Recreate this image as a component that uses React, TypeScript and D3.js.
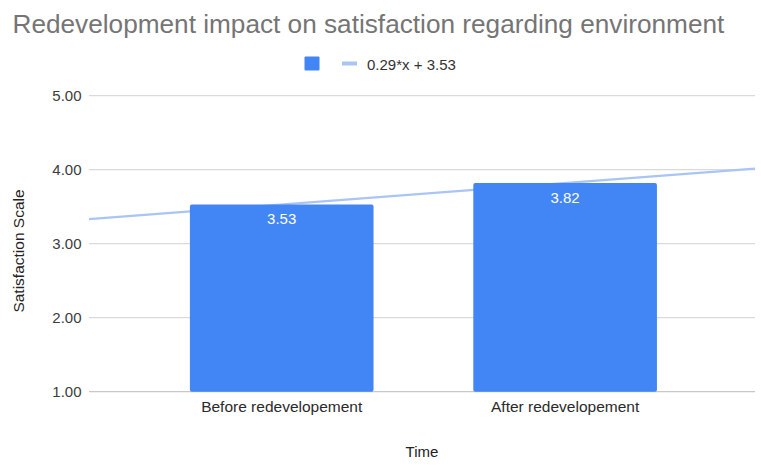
import React from "react";
import * as d3 from "d3";

const categories = ["Before redevelopement", "After redevelopement"];
const values = [3.53, 3.82];
const yTicks = [1, 2, 3, 4, 5];
const titleText = "Redevelopment impact on satisfaction regarding environment";
const xAxisTitle = "Time";
const yAxisTitle = "Satisfaction Scale";

const W = 761;
const H = 474;
const FONT = "'Liberation Sans', Arial, Helvetica, sans-serif";

export default function App() {
  const left = 89;
  const right = 755;
  const top = 95.7;
  const bottom = 391.7;

  const x = d3.scaleLinear().domain([-0.68, 1.67]).range([left, right]);
  const y = d3.scaleLinear().domain([1, 5]).range([bottom, top]);
  const step = x(1) - x(0);
  const barW = step * 0.648;

  // linear trend (x = 0,1,...)
  const xs = values.map((_, i) => i);
  const mx = d3.mean(xs) as number;
  const my = d3.mean(values) as number;
  const slope =
    d3.sum(xs.map((xi, i) => (xi - mx) * (values[i] - my))) /
    d3.sum(xs.map((xi) => (xi - mx) * (xi - mx)));
  const intercept = my - slope * mx;
  const [d0, d1] = x.domain();
  const trendPts: [number, number][] = [
    [d0, intercept + slope * d0],
    [d1, intercept + slope * d1],
  ];
  const line = d3
    .line<[number, number]>()
    .x((d) => x(d[0]))
    .y((d) => y(d[1]));
  const legendLabel = `${slope.toFixed(2)}*x + ${intercept.toFixed(2)}`;

  return (
    <svg
      width={W}
      height={H}
      style={{ position: "absolute", left: 0, top: 0, background: "#fff" }}
      fontFamily={FONT}
    >
      <rect x={0} y={0} width={W} height={H} fill="#fff" />
      <text x={12.5} y={33.3} fontSize={26.2} fill="#757575">
        {titleText}
      </text>

      {/* legend */}
      <rect x={304.5} y={56.5} width={15} height={14} fill="#4285f4" rx={1} />
      <line x1={342} x2={357} y1={63.5} y2={63.5} stroke="#a9c4f5" strokeWidth={4} />
      <text x={367} y={69.7} fontSize={15} fill="#333">
        {legendLabel}
      </text>

      {/* gridlines */}
      {yTicks.map((t) => (
        <g key={t}>
          <line
            x1={left}
            x2={right}
            y1={y(t)}
            y2={y(t)}
            stroke={t === 1 ? "#c8c8c8" : "#dadada"}
            strokeWidth={1.3}
          />
          <text
            x={81.5}
            y={y(t) + 5}
            fontSize={15}
            textAnchor="end"
            fill="#3c3c3c"
          >
            {t.toFixed(2)}
          </text>
        </g>
      ))}

      {/* trendline (behind bars) */}
      <path d={line(trendPts) || ""} fill="none" stroke="#a9c4f5" strokeWidth={2.2} />

      {/* bars */}
      {values.map((v, i) => (
        <g key={i}>
          <rect
            x={x(i) - barW / 2}
            y={y(v)}
            width={barW}
            height={y(1) - y(v)}
            fill="#4285f4"
            rx={2}
          />
          <text
            x={x(i)}
            y={y(v) + 19.5}
            fontSize={15}
            textAnchor="middle"
            fill="#fff"
          >
            {v.toFixed(2)}
          </text>
          <text
            x={x(i)}
            y={411.5}
            fontSize={15.5}
            textAnchor="middle"
            fill="#2a2a2a"
          >
            {categories[i]}
          </text>
        </g>
      ))}

      {/* axis titles */}
      <text x={(left + right) / 2} y={457} fontSize={15} textAnchor="middle" fill="#222">
        {xAxisTitle}
      </text>
      <text
        transform={`translate(23.5, 251) rotate(-90)`}
        fontSize={15.5}
        textAnchor="middle"
        fill="#222"
      >
        {yAxisTitle}
      </text>
    </svg>
  );
}
